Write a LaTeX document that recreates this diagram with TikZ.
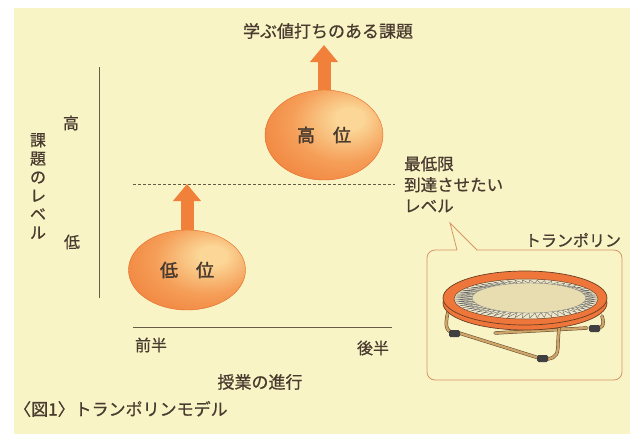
\documentclass[tikz,border=0pt]{standalone}
\usepackage{fontspec}
\setmainfont{Noto Sans CJK JP}[FakeBold=0.7]
\newfontfamily\heavy{Noto Sans CJK JP}[FakeBold=1.8]
\usepackage{xcolor}
\usetikzlibrary{arrows.meta,positioning,shapes.geometric}

\definecolor{paper}{RGB}{249,244,198}
\definecolor{ink}{RGB}{72,58,46}
\definecolor{axisc}{RGB}{105,90,70}
\definecolor{tang}{RGB}{240,128,58}
\definecolor{orbhi}{RGB}{251,214,150}
\definecolor{orbmid}{RGB}{245,158,88}
\definecolor{orbrim}{RGB}{228,104,38}
\definecolor{ringc}{RGB}{238,118,58}
\definecolor{ringedge}{RGB}{105,62,35}
\definecolor{matc}{RGB}{232,221,176}
\definecolor{tubefill}{RGB}{205,165,105}
\definecolor{tubeedge}{RGB}{95,70,45}
\definecolor{bubblec}{RGB}{214,150,100}

% soft orange ball, light spot up and right of the middle
\pgfdeclareradialshading{orb}{\pgfpoint{12bp}{10bp}}{%
  color(0bp)=(orbhi); color(6bp)=(orbhi); color(22bp)=(orbmid);
  color(38bp)=(tang); color(50bp)=(orbrim); color(70bp)=(orbrim)}

\begin{document}
\begin{tikzpicture}[x=1pt, y=-1pt,
  lbl/.style={text=ink, inner sep=0pt, font=\fontsize{16}{19}\selectfont},
  ball/.style={ellipse, shade, shading=orb, draw=orbrim, line width=0.4pt,
               inner sep=0pt, text=ink, font=\heavy\fontsize{18}{20}\selectfont},
  lift/.style={tang, line width=13pt, -{Triangle[width=27pt,length=17pt]}},
  axis/.style={draw=axisc, line width=0.9pt},
  cut/.style={draw=axisc, line width=0.6pt, dash pattern=on 2.5pt off 2.5pt},
  tube/.style={draw=tubeedge, line width=0.5pt, double=tubefill,
               double distance=2.4pt, line cap=round},
  foot/.style={fill=black!75, rounded corners=1.5pt},
  spring/.style={draw=black!60, line width=0.4pt}]
\fill[white] (0,0) rectangle (630,434);
\fill[paper] (14,8) rectangle (630,434);
\useasboundingbox (0,0) rectangle (630,434);

% axes
\coordinate (ytop) at (99,67);
\coordinate (ybot) at (99,298);
\coordinate (xl) at (133,327);
\coordinate (xr) at (392,327);
\draw[axis] (ytop) -- (ybot);
\draw[axis] (xl) -- (xr);
\node[lbl] (high) at (71,123) {高};
\node[lbl] (low) at (72,242) {低};
\node[lbl, align=center, font=\fontsize{16}{18.5}\selectfont] (ylab) at (38,186)
  {課\\題\\の\\レ\\ベ\\ル};
\node[lbl] (early) at (151,345) {前半};
\node[lbl] (late) at (373,348) {後半};
\node[lbl, font=\fontsize{17}{20}\selectfont] (xlab) at (260,382) {授業の進行};

% level line
\coordinate (dl) at (133,184);
\coordinate (dr) at (395,184);
\draw[cut] (dl) -- (dr);
\node[lbl, align=left, anchor=north west, font=\fontsize{16.5}{21}\selectfont] (minlv) at (404,156)
  {最低限\\到達させたい\\レベル};

% the two balls and their lifts
\node[ball, minimum width=118pt, minimum height=90pt] (hi) at (324,135) {高\hspace{1em}位};
\node[ball, minimum width=117pt, minimum height=80pt] (lo) at (187,270) {低\hspace{1em}位};
\node[lbl, font=\fontsize{17}{20}\selectfont] (goal) at (328,31) {学ぶ値打ちのある課題};
\coordinate (aim) at (325,45);
\draw[lift] (hi.north) -- (hi.north |- aim);
\draw[lift] (lo.north) -- (lo.north |- dl);

% speech bubble
\draw[draw=bubblec, line width=0.8pt] (457,250) -- (450,223) -- (477,250)
  [rounded corners=8pt] -- (622,250) -- (622,380) -- (427,380) -- (427,250) -- (457,250);
\node[lbl] (tramp) at (573,240) {トランポリン};

% trampoline
\begin{scope}[shift={(525,298)}]
  \draw[tube] (-30,35) -- (62,30);
  \draw[tube] (-77,14) .. controls (-81,30) and (-78,35) .. (-68,35);
  \draw[tube] (-66,35) -- (14,60);
  \draw[tube] (22,61) .. controls (32,60) and (33,55) .. (33,45) -- (34,28);
  \draw[tube] (77,18) .. controls (80,28) and (77,31) .. (68,31);
  \fill[foot] (-76,32) rectangle (-65,39);
  \fill[foot] (12,57) rectangle (23,64);
  \fill[foot] (64,27) rectangle (75,34);
  \filldraw[fill=ringc, draw=ringedge, line width=0.7pt] (0,5) ellipse [x radius=82pt, y radius=27pt];
  \filldraw[fill=ringc, draw=ringedge, line width=0.7pt] (0,0) ellipse [x radius=82pt, y radius=27pt];
  \filldraw[fill=matc!70!white, draw=ringedge, line width=0.5pt] (1,1) ellipse [x radius=72pt, y radius=20pt];
  \foreach \a in {0,6,...,354}
    \draw[spring] ({4+57*cos(\a)},{15*sin(\a)}) -- ({1+71*cos(\a+3)},{1+19*sin(\a+3)})
      -- ({4+57*cos(\a+6)},{15*sin(\a+6)});
  \filldraw[fill=matc, draw=black!50, line width=0.4pt] (4,0) ellipse [x radius=57pt, y radius=15pt];
\end{scope}

\node[lbl, anchor=west, font=\fontsize{17}{20}\selectfont] (cap) at (14,409) {〈図1〉トランポリンモデル};
\end{tikzpicture}
\end{document}
